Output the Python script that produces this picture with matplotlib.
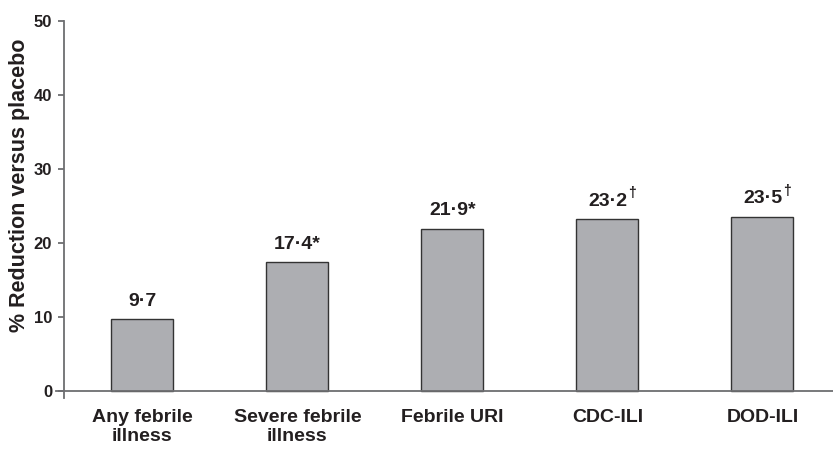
import matplotlib.pyplot as plt

# data
categories = ["Any febrile\nillness", "Severe febrile\nillness", "Febrile URI", "CDC-ILI", "DOD-ILI"]
values = [9.7, 17.4, 21.9, 23.2, 23.5]
value_text = ["9·7", "17·4*", "21·9*", "23·2", "23·5"]
marks = ["", "", "", "†", "†"]
yticks = [0, 10, 20, 30, 40, 50]

plt.rcParams['font.family'] = ['Liberation Sans', 'DejaVu Sans']
plt.rcParams['font.weight'] = 'bold'

txt = '#231f20'
axc = '#6d6e71'

fig = plt.figure(figsize=(8.33, 4.49), dpi=100)
ax = fig.add_axes([0.0768, 0.1143, 0.9232, 0.8389])

x = list(range(len(values)))
ax.bar(x, values, width=0.4, color='#adaeb2', edgecolor='#333333', linewidth=1.0, zorder=2)

for xi, v, t, m in zip(x, values, value_text, marks):
    lab = ax.annotate(t, (xi, v), xytext=(0, 7), textcoords='offset points',
                      ha='center', va='bottom', fontsize=14, fontweight='bold', color=txt)
    if m:
        ax.annotate(m, xy=(1.0, 0.55), xycoords=lab, xytext=(0.5, 0), textcoords='offset points',
                    ha='left', va='bottom', fontsize=10, fontweight='bold', color=txt)

ax.set_xlim(-0.506, 4.455)
ax.set_ylim(-0.9, 50)
ax.axhline(0, color=axc, linewidth=1.3, zorder=3, xmin=-0.01, clip_on=False)

for s in ['top', 'right', 'bottom']:
    ax.spines[s].set_visible(False)
ax.spines['left'].set_color(axc)
ax.spines['left'].set_linewidth(1.3)

ax.set_yticks(yticks)
ax.set_yticklabels([str(t) for t in yticks])
ax.tick_params(axis='y', length=4.5, width=1.3, color=axc, pad=4,
               labelsize=12, labelcolor=txt)
ax.set_xticks(x)
ax.set_xticklabels(categories, fontsize=14, fontweight='bold', color=txt, linespacing=1.15)
ax.tick_params(axis='x', length=0, pad=8)

fig.text(20 / 833, 1 - 185 / 449, "% Reduction versus placebo", rotation=90,
         ha='center', va='center', fontsize=15.5, fontweight='bold', color=txt)

fig.savefig('out.png', dpi=100)
